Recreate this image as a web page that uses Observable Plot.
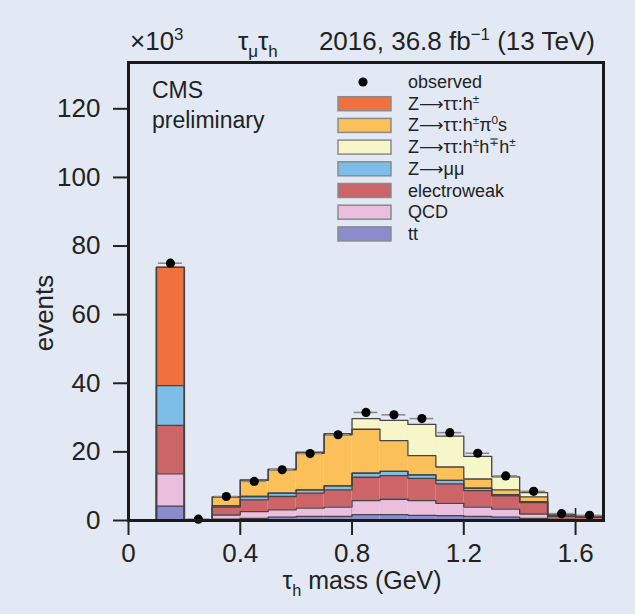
<!DOCTYPE html>
<html><head><meta charset="utf-8">
<script src="https://cdn.jsdelivr.net/npm/d3@7"></script>
<script src="https://cdn.jsdelivr.net/npm/@observablehq/plot@0.6"></script>
<style>
html,body{margin:0;padding:0;background:#e3e9f4;}
#chart svg{display:block;}
</style></head><body><div id="chart"></div>
<script>
// ---- data (values in thousands of events) ----
const binEdges = [0.1,0.2,0.3,0.4,0.5,0.6,0.7,0.8,0.9,1.0,1.1,1.2,1.3,1.4,1.5,1.6,1.7];
const seriesNames = ["tt","QCD","electroweak","Z→μμ","Z→ττ:h±","Z→ττ:h±π0s","Z→ττ:h±h∓h±"];
const seriesColors = ["#8a8ccc","#ecbede","#cc6468","#7dbee8","#f0703f","#fcc05a","#f6f6c8"];
const ttValues     = [4.2,0,0.4,0.6,1.0,1.2,1.2,1.7,1.7,1.5,1.4,1.2,1.0,0.6,0.1,0.1];
const qcdValues    = [9.4,0,1.2,2.0,2.1,2.4,2.7,4.1,4.5,4.3,3.6,2.7,2.3,1.3,0.2,0.1];
const ewValues     = [14.1,0,2.3,3.4,3.9,4.4,5.0,6.8,6.9,6.5,5.7,4.8,3.9,3.3,0.9,0.7];
const zmumuValues  = [11.6,0,0.4,1.0,1.0,0.9,1.2,1.2,1.2,1.0,1.0,0.7,0.3,0.3,0.1,0.1];
const hValues      = [34.5,0,0,0,0,0,0,0,0,0,0,0,0,0,0,0];
const hpi0Values   = [0,0,2.5,4.7,6.8,10.7,14.9,12.8,9.0,5.6,3.9,2.7,1.4,1.4,0.3,0.2];
const threeProng   = [0,0,0.1,0.1,0.2,0.3,0.3,3.1,5.9,9.1,9.0,6.6,3.8,1.2,0.2,0.1];
const observed     = [75.0,0.4,7.0,11.4,14.8,19.5,25.0,31.5,30.8,29.7,25.6,19.6,13.0,8.5,2.0,1.5];
const xTicks = [0,0.4,0.8,1.2,1.6];
const yTicks = [0,20,40,60,80,100,120];

const seriesValues = [ttValues,qcdValues,ewValues,zmumuValues,hValues,hpi0Values,threeProng];
const stackRows = [];
seriesNames.forEach((s,k) => seriesValues[k].forEach((v,i) => {
  if (v > 0) stackRows.push({series:s, x1:binEdges[i], x2:binEdges[i+1], v});
}));
// step outlines of each cumulative layer top
const outlineRows = [];
const cum = binEdges.slice(0, -1).map(() => 0);
seriesNames.forEach((s,k) => {
  const last = binEdges.length - 1;
  outlineRows.push({series:s, x:binEdges[0], y:0});
  seriesValues[k].forEach((v,i) => {
    cum[i] += v;
    outlineRows.push({series:s, x:binEdges[i], y:cum[i]});
    outlineRows.push({series:s, x:binEdges[i+1], y:cum[i]});
  });
  outlineRows.push({series:s, x:binEdges[last], y:0});
});
const obsRows = observed.map((v,i) => ({x1:binEdges[i], x2:binEdges[i+1], xc:(binEdges[i]+binEdges[i+1])/2, v}));

const W = 635, H = 614, mL = 128, mR = 32, mT = 62, mB = 94;
const FONT = "'Liberation Sans', Arial, sans-serif";
const INK = "#222";

const chart = Plot.plot({
  width: W, height: H,
  marginLeft: mL, marginRight: mR, marginTop: mT, marginBottom: mB,
  style: {background: "#e3e9f4", fontFamily: FONT, color: INK},
  x: {domain: [0, 1.7]},
  y: {domain: [0, 133.5]},
  color: {domain: seriesNames, range: seriesColors},
  marks: [
    Plot.ruleX(xTicks, {x: d => d, insetTop: H - mT - mB - 12, stroke: INK, strokeWidth: 1.6}),
    Plot.rectY(stackRows, {x1: "x1", x2: "x2", y: "v", fill: "series", order: seriesNames}),
    Plot.line(outlineRows, {x: "x", y: "y", z: "series", stroke: "#444", strokeWidth: 1.3}),
    Plot.ruleY(obsRows, {y: "v", x1: "x1", x2: "x2", insetLeft: 2, insetRight: 2, stroke: "#8c8c8c", strokeWidth: 1.6}),
    Plot.dot(obsRows, {x: "xc", y: "v", r: 4.6, fill: "#000", stroke: "none"}),
    Plot.frame({stroke: "#1a1a1a", strokeWidth: 3}),
    Plot.axisX(xTicks, {tickSize: 15, tickPadding: 8, fontSize: 26, label: null, strokeWidth: 2, tickFormat: d => String(d)}),
    Plot.axisY(yTicks, {tickSize: 15, tickPadding: 13, fontSize: 26, label: null, strokeWidth: 2})
  ]
});
document.getElementById("chart").appendChild(chart);

// ---- annotations ----
const svg = d3.select(chart);
const g = svg.append("g").attr("font-family", FONT).attr("fill", INK);
function rich(x, y, parts, fs, anchor) {
  const t = g.append("text").attr("x", x).attr("y", y).attr("font-size", fs).attr("text-anchor", anchor || "start");
  let shift = 0;
  parts.forEach(p => {
    const [s, mode] = typeof p === "string" ? [p, null] : p;
    const target = mode === "sup" ? -0.4 * fs : mode === "sub" ? 0.28 * fs : 0;
    const ts = t.append("tspan").attr("dy", target - shift).attr("font-size", (mode === "sup" || mode === "sub") ? fs * 0.65 : fs).text(s);
    if (mode === "arrow") ts.attr("font-family", "'DejaVu Sans', sans-serif").attr("font-size", fs * 0.95);
    shift = target;
  });
  return t;
}
rich(130, 50, ["×10", ["3","sup"]], 26);
rich(238, 50, ["τ", ["μ","sub"], "τ", ["h","sub"]], 26);
rich(595, 50, ["2016, 36.8 fb", ["−1","sup"], " (13 TeV)"], 26, "end");
rich(152, 98, ["CMS"], 23);
rich(152, 128, ["preliminary"], 23);
g.append("text").attr("transform", "translate(53,313) rotate(-90)").attr("text-anchor", "middle")
  .attr("font-size", 26).text("events");
rich(362, 589, ["τ", ["h","sub"], " mass (GeV)"], 25, "middle");

// legend
const AR = ["⟶", "arrow"];
const legendItems = [
  {name: "Z→ττ:h±",     parts: ["Z", AR, "ττ:h", ["±","sup"]]},
  {name: "Z→ττ:h±π0s",  parts: ["Z", AR, "ττ:h", ["±","sup"], "π", ["0","sup"], "s"]},
  {name: "Z→ττ:h±h∓h±", parts: ["Z", AR, "ττ:h", ["±","sup"], "h", ["∓","sup"], "h", ["±","sup"]]},
  {name: "Z→μμ",        parts: ["Z", AR, "μμ"]},
  {name: "electroweak", parts: ["electroweak"]},
  {name: "QCD",         parts: ["QCD"]},
  {name: "tt",          parts: ["tt"]}
];
const lx = 338, ly0 = 82, lstep = 21.7;
g.append("circle").attr("cx", 363).attr("cy", ly0).attr("r", 4.6).attr("fill", "#000");
rich(408, ly0 + 6, ["observed"], 18);
legendItems.forEach((it, i) => {
  const cy = ly0 + lstep * (i + 1);
  g.append("rect").attr("x", lx).attr("y", cy - 7).attr("width", 53).attr("height", 14)
    .attr("fill", seriesColors[seriesNames.indexOf(it.name)]).attr("stroke", "#8a8a8a").attr("stroke-width", 1.5);
  rich(408, cy + 6, it.parts, 18);
});
</script></body></html>
